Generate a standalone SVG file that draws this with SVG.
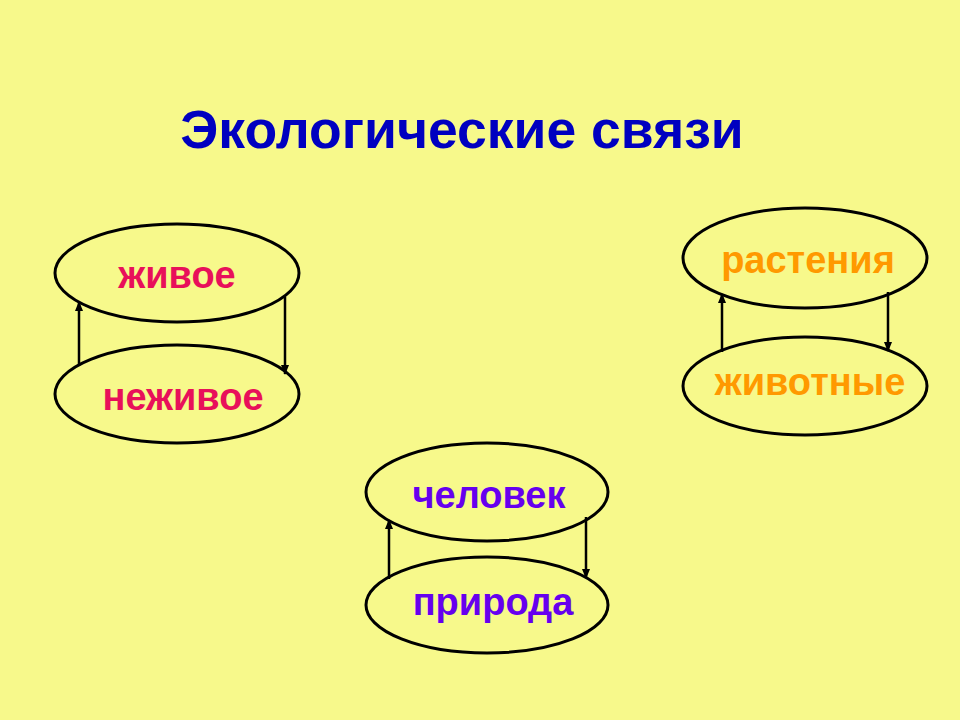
<svg xmlns="http://www.w3.org/2000/svg" width="960" height="720" viewBox="0 0 960 720">
<defs>
<style>
.e{fill:none;stroke:#000;stroke-width:3}
.c{stroke:#000;stroke-width:2.5;fill:none;marker-end:url(#a)}
.t{font-family:"Liberation Sans",Arial,sans-serif;font-weight:bold;font-size:38px;text-anchor:middle}
.r{fill:#E8105A}.o{fill:#FF9900}.p{fill:#6600EE}
</style>
<marker id="a" viewBox="0 0 10 10" refX="9" refY="5" markerWidth="4" markerHeight="4" orient="auto" markerUnits="strokeWidth">
<path d="M0,1 L10,5 L0,9 z" fill="#000"/>
</marker>
</defs>
<rect width="960" height="720" fill="#F7F98B"/>
<text x="462" y="148" font-family="'Liberation Sans',Arial,sans-serif" font-weight="bold" font-size="53.5" fill="#0000C0" text-anchor="middle">Экологические связи</text>
<g id="zhivoe"><ellipse class="e" cx="177" cy="273" rx="122" ry="49"/><text class="t r" x="177" y="288">живое</text></g>
<g id="nezhivoe"><ellipse class="e" cx="177" cy="394" rx="122" ry="49"/><text class="t r" x="183" y="410">неживое</text></g>
<g id="rastenia"><ellipse class="e" cx="805" cy="258" rx="122" ry="50"/><text class="t o" x="808" y="273">растения</text></g>
<g id="zhivotnye"><ellipse class="e" cx="805" cy="386" rx="122" ry="49"/><text class="t o" x="810" y="395">животные</text></g>
<g id="chelovek"><ellipse class="e" cx="487" cy="492" rx="121" ry="49"/><text class="t p" x="489" y="508">человек</text></g>
<g id="priroda"><ellipse class="e" cx="487" cy="605" rx="121" ry="48"/><text class="t p" x="493" y="615">природа</text></g>
<g id="connectors">
<line class="c" x1="79" y1="366" x2="79" y2="302"/>
<line class="c" x1="285" y1="297" x2="285" y2="374"/>
<line class="c" x1="722" y1="352" x2="722" y2="294"/>
<line class="c" x1="888" y1="292" x2="888" y2="351"/>
<line class="c" x1="389" y1="579" x2="389" y2="520"/>
<line class="c" x1="586" y1="517" x2="586" y2="578"/>
</g>
</svg>
